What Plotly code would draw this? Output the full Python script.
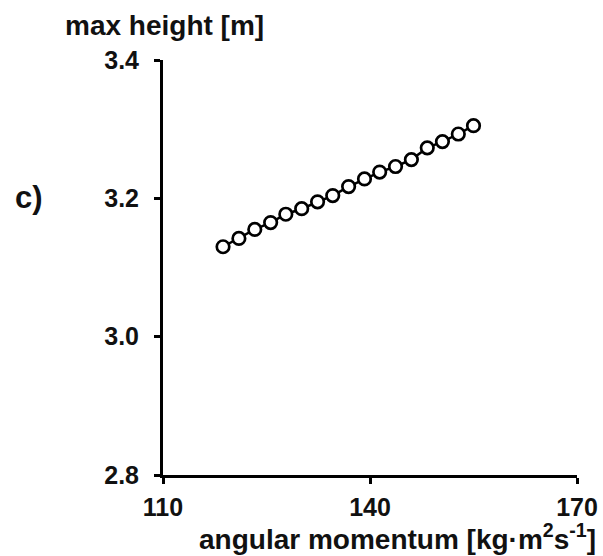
import plotly.graph_objects as go

angular_momentum = [118.7, 121.0, 123.3, 125.6, 127.8, 130.1, 132.4, 134.6, 136.9, 139.2,
                    141.4, 143.7, 146.0, 148.3, 150.5, 152.8, 155.0]
max_height = [3.130, 3.142, 3.155, 3.165, 3.177, 3.185, 3.195, 3.204, 3.217, 3.228,
              3.238, 3.246, 3.256, 3.273, 3.282, 3.293, 3.305]

x_ticks = [110, 140, 170]
y_ticks = [2.8, 3.0, 3.2, 3.4]
y_tick_text = ["2.8", "3.0", "3.2", "3.4"]

FONT = "Liberation Sans, Arial, sans-serif"
W, H = 603, 556
l, r, t, b = 163, 26, 60, 81
pw, ph = W - l - r, H - t - b


def px_to_paper(px, py):
    return (px - l) / pw, (H - b - py) / ph


fig = go.Figure()
fig.add_trace(go.Scatter(
    x=angular_momentum, y=max_height, mode="lines+markers",
    line=dict(color="black", width=2.5),
    marker=dict(symbol="circle", size=12.5, color="white",
                line=dict(color="black", width=2.7)),
    showlegend=False, cliponaxis=False,
))

axis_common = dict(showline=True, linecolor="black", linewidth=3,
                   ticks="outside", tickwidth=3, ticklen=6, tickcolor="black",
                   showgrid=False, zeroline=False, automargin=False,
                   tickfont=dict(family=FONT, size=25, color="#111", weight="bold"))

fig.update_xaxes(range=[110, 170], tickvals=x_ticks, ticklabelstandoff=2, **axis_common)
fig.update_yaxes(range=[2.8, 3.4], tickvals=y_ticks, ticktext=y_tick_text,
                 ticklabelstandoff=10, **axis_common)

ann = []
x0, y0 = px_to_paper(63, 25)
ann.append(dict(text="max height [m]", x=x0, y=y0, xanchor="left", yanchor="middle",
                xref="paper", yref="paper", showarrow=False,
                font=dict(family=FONT, size=28, color="#111", weight="bold")))
x0, y0 = px_to_paper(13, 197)
ann.append(dict(text="c)", x=x0, y=y0, xanchor="left", yanchor="middle",
                xref="paper", yref="paper", showarrow=False,
                font=dict(family=FONT, size=31, color="#111", weight="bold")))
x0, y0 = px_to_paper(598, 537)
ann.append(dict(text="angular momentum [kg·m<sup>2</sup>s<sup>-1</sup>]", x=x0, y=y0,
                xanchor="right", yanchor="middle", xref="paper", yref="paper",
                showarrow=False,
                font=dict(family=FONT, size=28, color="#111", weight="bold")))

fig.update_layout(
    width=W, height=H,
    margin=dict(l=l, r=r, t=t, b=b),
    plot_bgcolor="white", paper_bgcolor="white",
    annotations=ann,
)

fig.write_html("out.html")
